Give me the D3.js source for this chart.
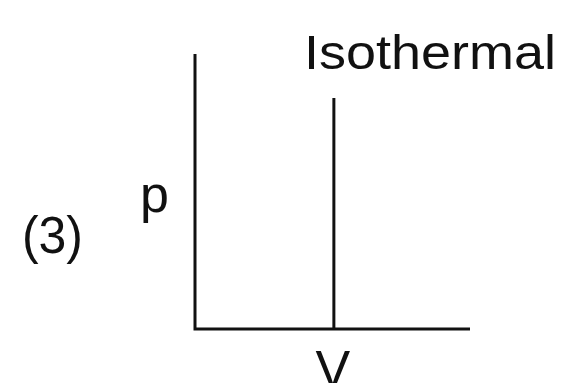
<!DOCTYPE html>
<html>
<head>
<meta charset="utf-8">
<script src="https://cdn.jsdelivr.net/npm/d3@7"></script>
<style>
  html, body { margin: 0; padding: 0; background: #fff; }
  text { font-family: "Liberation Sans", Arial, sans-serif; fill: #111; }
</style>
</head>
<body>
<div id="chart"></div>
<script>
// isothermal process: pressure changes at constant volume
const isoV = [5.05, 5.05];
const isoP = [0, 8.4];
const axisLabels = ["V", "p"];
const curveLabel = "Isothermal";
const figNumber = "(3)";

const width = 567, height = 383;

const svg = d3.select("#chart").append("svg")
    .attr("width", width)
    .attr("height", height);

const x = d3.scaleLinear().domain([0, 10]).range([195, 470]);
const y = d3.scaleLinear().domain([0, 10]).range([329, 54]);

// axes drawn as plain lines, no ticks
svg.append("path")
    .attr("d", d3.line()([[x(0), y(10)], [x(0), y(0)], [x(10), y(0)]]))
    .attr("fill", "none")
    .attr("stroke", "#111")
    .attr("stroke-width", 3);

const pts = isoV.map((v, i) => ({v: v, p: isoP[i]}));
const line = d3.line()
    .x(d => x(d.v))
    .y(d => y(d.p));

svg.append("path")
    .datum(pts)
    .attr("d", line)
    .attr("fill", "none")
    .attr("stroke", "#111")
    .attr("stroke-width", 3);

// curve label
svg.append("text")
    .attr("x", 304)
    .attr("y", 69)
    .attr("textLength", 252)
    .attr("lengthAdjust", "spacingAndGlyphs")
    .style("font-size", "49px")
    .text(curveLabel);

// axis labels
svg.append("text")
    .attr("x", x(isoV[0]) - 1)
    .attr("y", 387)
    .attr("text-anchor", "middle")
    .style("font-size", "52px")
    .text(axisLabels[0]);

svg.append("text")
    .attr("x", 140)
    .attr("y", 212)
    .style("font-size", "52px")
    .text(axisLabels[1]);

svg.append("text")
    .attr("x", 22)
    .attr("y", 253)
    .attr("textLength", 61)
    .attr("lengthAdjust", "spacingAndGlyphs")
    .style("font-size", "52px")
    .text(figNumber);
</script>
</body>
</html>
